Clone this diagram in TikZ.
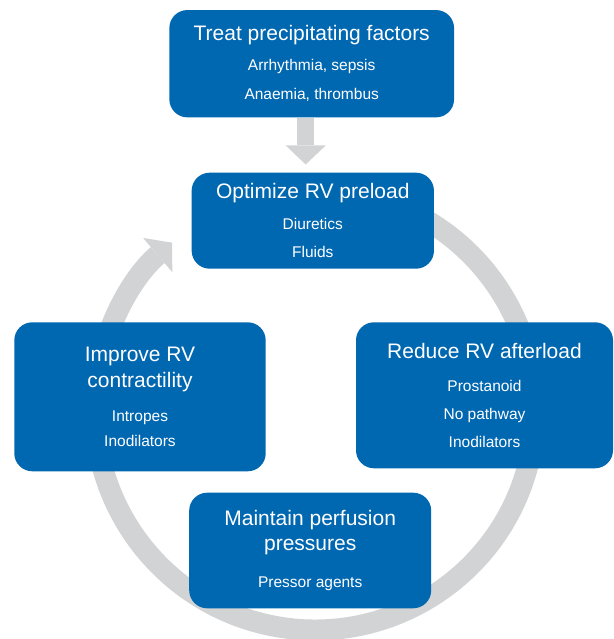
\documentclass[tikz,border=0pt]{standalone}
\usepackage{fontspec}
\setmainfont{Liberation Sans}
\usetikzlibrary{arrows.meta}

\definecolor{rvblue}{RGB}{0,103,177}
\definecolor{rvgrey}{RGB}{209,211,212}
\newcommand\headfont{\fontsize{21}{26}\selectfont}
\newcommand\itemfont{\fontsize{15.5}{28}\selectfont}

\begin{document}
\begin{tikzpicture} [x = 1pt, y = 1pt,
		rvbox/.style = {fill = rvblue, text = white, rounded corners = 18pt, align = center, inner sep = 0pt, font = \itemfont},
		ring/.style = {rvgrey, line width = 21pt, -{Triangle[width = 45pt, length = 19pt, line width = 0pt]}},
		feed/.style = {rvgrey, line width = 17pt, shorten > = 8pt, -{Triangle[width = 40pt, length = 19pt, line width = 0pt]}}]
	\useasboundingbox (0,0) rectangle (613,639);
	
	\coordinate (hub) at (315,229);
	\draw [ring] ([shift = {(80:220)}] hub) arc [start angle = 80, end angle = -229.5, radius = 220];
	
	\node [rvbox, minimum width = 284.7pt, minimum height = 107.3pt] (treat) at (311.7,575.3)
		{{\headfont Treat precipitating factors}\\[2pt] Arrhythmia, sepsis\\[1pt] Anaemia, thrombus};
	\node [rvbox, minimum width = 242.3pt, minimum height = 96pt] (optimize) at (312.8,418.3)
		{{\headfont Optimize RV preload}\\[3pt] Diuretics\\ Fluids};
	\node [rvbox, minimum width = 251.4pt, minimum height = 149pt] (improve) at (140,242.2)
		{{\headfont Improve RV}\\[-2pt] {\headfont contractility}\\[6pt] Intropes\\[-2.5pt] Inodilators};
	\node [rvbox, minimum width = 257pt, minimum height = 146pt] (reduce) at (484.5,243.7)
		{{\headfont Reduce RV afterload}\\[5pt] Prostanoid\\ No pathway\\ Inodilators};
	\node [rvbox, minimum width = 242pt, minimum height = 115.6pt] (maintain) at (310.2,88.5)
		{{\headfont Maintain perfusion}\\[-3pt] {\headfont pressures}\\[9pt] Pressor agents};
	
	\coordinate (feedtop) at ([xshift = -6pt] treat.south);
	\draw [feed] (feedtop) -- (feedtop |- optimize.north);
\end{tikzpicture}
\end{document}
